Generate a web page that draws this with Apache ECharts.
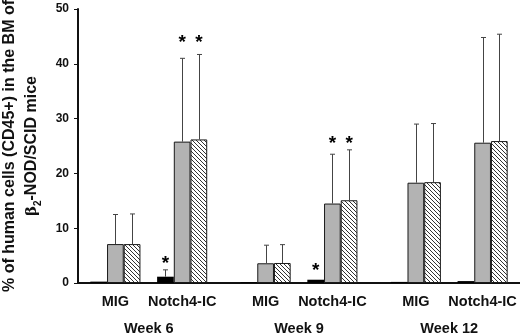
<!DOCTYPE html>
<html>
<head>
<meta charset="utf-8">
<script src="https://cdn.jsdelivr.net/npm/echarts@6/dist/echarts.min.js"></script>
<style>
  html, body { margin: 0; padding: 0; background: #fff; }
  #chart { width: 520px; height: 333px; }
</style>
</head>
<body>
<div id="chart"></div>
<script>
// groups along x (MIG / Notch4-IC for each week)
const groupLabels = ['MIG', 'Notch4-IC', 'MIG', 'Notch4-IC', 'MIG', 'Notch4-IC']
const groupPos = [1, 2, 3.25, 4.25, 5.5, 6.5]
const weekLabels = ['Week 6', 'Week 9', 'Week 12']
const weekPos = [1.5, 3.75, 6]

// bar heights
const blackVals = [0.25, 1.15, 0.15, 0.6, 0.2, 0.35]
const grayVals = [7.1, 25.8, 3.6, 14.5, 18.3, 25.6]
const hatchVals = [7.1, 26.2, 3.65, 15.1, 18.4, 25.9]

// top of the error bars (null = none drawn)
const blackErr = [null, 2.4, null, null, null, null]
const grayErr = [12.5, 41.0, 6.9, 23.5, 29.0, 44.8]
const hatchErr = [12.6, 41.7, 7.0, 24.3, 29.1, 45.4]

// where the significance stars sit
const blackStar = [null, 4.2, null, 3.0, null, null]
const grayStar = [null, 44.6, null, 26.2, null, null]
const hatchStar = [null, 44.6, null, 26.2, null, null]

const yTicks = [0, 10, 20, 30, 40, 50]

const FONT = '"Liberation Sans", Arial, sans-serif'
const BAR_W = 16.7

// diagonal hatch pattern
function makeHatch() {
  const c = document.createElement('canvas')
  c.width = 4
  c.height = 4
  const ctx = c.getContext('2d')
  ctx.fillStyle = '#fff'
  ctx.fillRect(0, 0, 4, 4)
  ctx.strokeStyle = '#333'
  ctx.lineWidth = 1
  ctx.beginPath()
  ctx.moveTo(-1, -1); ctx.lineTo(5, 5)
  ctx.moveTo(-1, 3); ctx.lineTo(1, 5)
  ctx.moveTo(3, -1); ctx.lineTo(5, 1)
  ctx.stroke()
  return c
}

// slot: 0 black, 1 gray, 2 hatched
const errData = []
const starData = []
;[[blackVals, blackErr, blackStar], [grayVals, grayErr, grayStar], [hatchVals, hatchErr, hatchStar]].forEach((s, slot) => {
  groupPos.forEach((x, i) => {
    if (s[1][i] !== null) errData.push([x, s[0][i], s[1][i], slot])
    if (s[2][i] !== null) starData.push([x, s[2][i], slot])
  })
})

const chart = echarts.init(document.getElementById('chart'))

const option = {
  animation: false,
  backgroundColor: '#fff',
  grid: { left: 78, right: 0, top: 9, bottom: 50, containLabel: false, outerBoundsMode: 'none' },
  xAxis: [
    {
      type: 'value',
      min: 0.44,
      max: 7.06,
      axisLine: { onZero: false, lineStyle: { color: '#111', width: 2 } },
      axisTick: { show: false },
      splitLine: { show: false },
      axisLabel: {
        customValues: groupPos,
        formatter: (v) => groupLabels[groupPos.indexOf(v)],
        margin: 11,
        hideOverlap: false,
        fontFamily: FONT,
        fontWeight: 'bold',
        fontSize: 14.5,
        color: '#111',
      },
    },
    {
      type: 'value',
      min: 0.44,
      max: 7.06,
      position: 'bottom',
      axisLine: { show: false, onZero: false },
      axisTick: { show: false },
      splitLine: { show: false },
      axisLabel: {
        customValues: weekPos,
        formatter: (v) => weekLabels[weekPos.indexOf(v)],
        margin: 38,
        fontFamily: FONT,
        fontWeight: 'bold',
        fontSize: 14.5,
        color: '#111',
      },
    },
  ],
  yAxis: {
    type: 'value',
    min: 0,
    max: 50,
    interval: 10,
    axisLine: { show: true, lineStyle: { color: '#111', width: 2 } },
    axisTick: { show: true, length: 4, lineStyle: { color: '#111' } },
    splitLine: { show: false },
    axisLabel: {
      customValues: yTicks,
      margin: 9,
      fontFamily: FONT,
      fontWeight: 'bold',
      fontSize: 12,
      color: '#111',
    },
    name: '{a|% of human cells (CD45+) in the BM of}\n{b|β}{s|2}{a|-NOD/SCID mice}',
    nameLocation: 'middle',
    nameGap: 35,
    nameTextStyle: {
      fontFamily: FONT,
      fontWeight: 'bold',
      fontSize: 16,
      lineHeight: 22,
      color: '#111',
      rich: {
        a: { fontFamily: FONT, fontWeight: 'bold', fontSize: 16, lineHeight: 22, color: '#111' },
        b: { fontFamily: 'DejaVu Serif', fontSize: 15, lineHeight: 22, color: '#111' },
        s: { fontFamily: FONT, fontSize: 10, lineHeight: 10, verticalAlign: 'bottom', color: '#111' },
      },
    },
  },
  series: [
    {
      name: 'black',
      type: 'bar',
      barWidth: BAR_W,
      barGap: '0%',
      data: groupPos.map((x, i) => [x, blackVals[i]]),
      itemStyle: { color: '#000' },
    },
    {
      name: 'gray',
      type: 'bar',
      barWidth: BAR_W,
      barGap: '0%',
      data: groupPos.map((x, i) => [x, grayVals[i]]),
      itemStyle: { color: '#b3b3b3', borderColor: '#1a1a1a', borderWidth: 1 },
    },
    {
      name: 'hatch',
      type: 'bar',
      barWidth: BAR_W,
      barGap: '0%',
      data: groupPos.map((x, i) => [x, hatchVals[i]]),
      itemStyle: { color: { image: makeHatch(), repeat: 'repeat' }, borderColor: '#1a1a1a', borderWidth: 1 },
    },
    {
      name: 'err',
      type: 'custom',
      z: 5,
      data: errData,
      encode: { x: 0, y: [1, 2] },
      renderItem: (params, api) => {
        const base = api.coord([api.value(0), api.value(1)])
        const top = api.coord([api.value(0), api.value(2)])
        const cx = Math.round(base[0] + (api.value(3) - 1) * BAR_W) + 0.5
        const style = { stroke: '#444', lineWidth: 1 }
        return {
          type: 'group',
          children: [
            { type: 'line', shape: { x1: cx, y1: base[1], x2: cx, y2: top[1] }, style },
            { type: 'line', shape: { x1: cx - 2.5, y1: top[1], x2: cx + 2.5, y2: top[1] }, style },
          ],
        }
      },
    },
    {
      name: 'stars',
      type: 'custom',
      z: 6,
      data: starData,
      encode: { x: 0, y: 1 },
      renderItem: (params, api) => {
        const p = api.coord([api.value(0), api.value(1)])
        return {
          type: 'text',
          x: p[0] + (api.value(2) - 1) * BAR_W,
          y: p[1] + 4,
          style: {
            text: '*',
            fill: '#000',
            font: 'bold 19px ' + FONT,
            align: 'center',
            verticalAlign: 'middle',
          },
        }
      },
    },
  ],
}

chart.setOption(option)
</script>
</body>
</html>
